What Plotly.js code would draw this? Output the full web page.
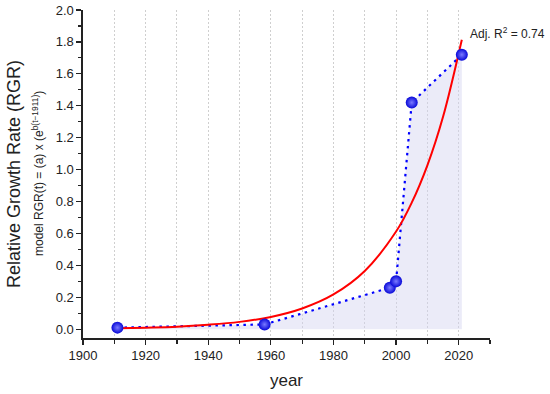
<!DOCTYPE html>
<html>
<head>
<meta charset="utf-8">
<script src="https://cdn.plot.ly/plotly-3.0.1.min.js"></script>
<style>html,body{margin:0;padding:0;background:#fff;}#chart{width:550px;height:394px;}</style>
</head>
<body>
<div id="chart"></div>
<script>
// Observed data points
const years = [1911, 1958, 1998, 2000, 2005, 2021];
const rgr = [0.01, 0.03, 0.26, 0.30, 1.42, 1.72];

// Fitted exponential model curve at sample years
const fitYears = [1911, 1920, 1930, 1940, 1950, 1960, 1970, 1980, 1990, 2000, 2005, 2010, 2015, 2021];
const fitRGR = [0.006, 0.010, 0.016, 0.028, 0.046, 0.077, 0.130, 0.218, 0.365, 0.612, 0.793, 1.027, 1.331, 1.814];

const xTickVals = [1900, 1920, 1940, 1960, 1980, 2000, 2020];
const yTickVals = [0.0, 0.2, 0.4, 0.6, 0.8, 1.0, 1.2, 1.4, 1.6, 1.8, 2.0];

const fontFam = 'Liberation Sans, Arial, sans-serif';

const traces = [
  {
    x: years, y: rgr, type: 'scatter', mode: 'lines',
    fill: 'tozeroy', fillcolor: 'rgba(210,210,240,0.45)',
    line: {color: '#0000ff', width: 2.2, dash: '2.5px,4.5px'},
    hoverinfo: 'skip', showlegend: false
  },
  {
    x: fitYears, y: fitRGR, type: 'scatter', mode: 'lines',
    line: {color: '#ff0000', width: 2, shape: 'spline'},
    showlegend: false
  },
  {
    x: years, y: rgr, type: 'scatter', mode: 'markers',
    marker: {size: 12, color: '#0808d8', line: {width: 0},
             gradient: {type: 'radial', color: '#7a7aff'}},
    showlegend: false
  }
];

const layout = {
  width: 550, height: 394,
  margin: {l: 83, r: 60, t: 10, b: 56},
  paper_bgcolor: '#ffffff', plot_bgcolor: '#ffffff',
  font: {family: fontFam, color: '#222222', size: 13},
  xaxis: {
    range: [1900, 2030],
    tickvals: xTickVals,
    ticks: 'outside', ticklen: 5, tickwidth: 1.2, tickcolor: '#222',
    showline: true, linecolor: '#222', linewidth: 1.6,
    showgrid: true, gridcolor: '#cfcfcf', griddash: '2px,2px', gridwidth: 1,
    zeroline: false,
    tickfont: {size: 13, family: fontFam, color: '#222'},
    minor: {dtick: 10, tick0: 1900, ticks: 'outside', ticklen: 4, tickcolor: '#222',
            showgrid: true, gridcolor: '#cfcfcf', griddash: '2px,2px', gridwidth: 1},
    title: {text: 'year', font: {size: 17, family: fontFam, color: '#222'}, standoff: 12}
  },
  yaxis: {
    range: [-0.055, 2.0],
    tickvals: yTickVals,
    tickformat: '.1f',
    ticks: 'outside', ticklen: 5, tickwidth: 1.2, tickcolor: '#222',
    showline: true, linecolor: '#222', linewidth: 1.6,
    showgrid: false, zeroline: false,
    tickfont: {size: 13, family: fontFam, color: '#222'},
    minor: {dtick: 0.1, tick0: 0, ticks: 'outside', ticklen: 3, tickcolor: '#222', showgrid: false},
    title: {text: 'Relative Growth Rate (RGR)', font: {size: 18, family: fontFam, color: '#222'}, standoff: 30}
  },
  annotations: [
    {
      xref: 'paper', yref: 'paper', x: 0, y: 0.5,
      xshift: -45, xanchor: 'center', yanchor: 'middle',
      textangle: -90, showarrow: false,
      text: 'model RGR(t) = (a) x (e<sup>b(t\u22121911)</sup>)',
      font: {size: 12, family: fontFam, color: '#222'}
    },
    {
      xref: 'paper', yref: 'paper', x: 0.947, y: 0.93,
      xanchor: 'left', yanchor: 'middle', showarrow: false,
      text: 'Adj. R<sup>2</sup> = 0.74',
      font: {size: 12, family: fontFam, color: '#222'}
    }
  ]
};

Plotly.newPlot('chart', traces, layout, {displayModeBar: false, staticPlot: true});
</script>
</body>
</html>
